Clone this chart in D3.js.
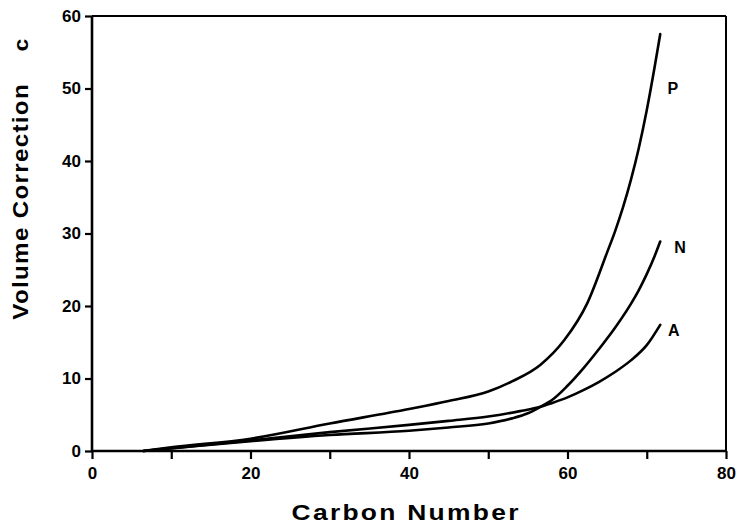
<!DOCTYPE html>
<html><head><meta charset="utf-8">
<script src="https://cdn.jsdelivr.net/npm/d3@7"></script>
<style>body{margin:0;background:#fff}svg{display:block}</style>
</head><body><svg id="c" width="742" height="528"></svg>
<script>
const xTicks=[0,20,40,60,80];
const xMinorTicks=[10,30,50,70];
const yTicks=[0,10,20,30,40,50,60];
const seriesNames=["P","N","A"];
const pCurve=[[6.5,0],[10,0.5],[20,1.7],[30,3.8],[40,5.8],[45,6.9],[50,8.2],[53,9.6],[56.6,11.9],[59.6,15.3],[62.5,20.4],[65,27.4],[66,30.3],[67,33.6],[68,37.4],[69,41.8],[70,47],[71,53],[71.7,57.5]];
const nCurve=[[6.5,0],[10,0.35],[20,1.35],[30,2.2],[40,2.8],[45,3.25],[50,3.8],[53,4.5],[55,5.2],[57,6.35],[58,7.0],[60,9.0],[62,11.4],[64,14.1],[66,17.0],[68,20.3],[69,22.2],[70,24.4],[71,26.9],[71.7,28.9]];
const aCurve=[[6.5,0],[10,0.4],[20,1.45],[30,2.6],[40,3.6],[45,4.15],[50,4.75],[54,5.5],[56.6,6.1],[58,6.6],[60,7.4],[62,8.4],[64,9.55],[66,10.9],[68,12.5],[70,14.6],[71.7,17.4]];
const labelPos=[[73.3,50],[74.2,28.1],[73.4,16.7]];

const svg=d3.select("#c");
const x=d3.scaleLinear().domain([0,80]).range([92,726]);
const y=d3.scaleLinear().domain([0,60]).range([451,16]);
const font="'Liberation Sans', Arial, sans-serif";

// frame
svg.append("line").attr("x1",x(0)).attr("x2",x(80)).attr("y1",y(60)).attr("y2",y(60)).attr("stroke","#000").attr("stroke-width",2);
svg.append("line").attr("x1",x(80)).attr("x2",x(80)).attr("y1",y(60)).attr("y2",y(0)).attr("stroke","#000").attr("stroke-width",2);

const xAxis=svg.append("g").attr("transform",`translate(0,${y(0)})`)
  .call(d3.axisBottom(x).tickValues(xTicks.concat(xMinorTicks)).tickSize(8).tickFormat(d=>xTicks.includes(d)?d:""));
const yAxis=svg.append("g").attr("transform",`translate(${x(0)},0)`)
  .call(d3.axisLeft(y).tickValues(yTicks).tickSize(7));
[xAxis,yAxis].forEach(g=>{
  g.select(".domain").attr("stroke","#000").attr("stroke-width",2.6);
  g.selectAll(".tick line").attr("stroke","#000").attr("stroke-width",2.2);
  g.selectAll("text").attr("fill","#000").style("font-family",font).style("font-size","17px").style("font-weight","bold");
});
xAxis.selectAll("text").attr("dy","1.05em").attr("y",10);
yAxis.selectAll("text").attr("x",-11);
xAxis.select(".domain").attr("d",`M${x(0)},0H${x(80)}`);
yAxis.select(".domain").attr("d",`M0,${y(0)}V${y(60)}`);

const line=d3.line().x(d=>x(d[0])).y(d=>y(d[1])).curve(d3.curveMonotoneX);
[pCurve,nCurve,aCurve].forEach(c=>{
  svg.append("path").attr("d",line(c)).attr("fill","none").attr("stroke","#000").attr("stroke-width",2.6).attr("stroke-linecap","round");
});
seriesNames.forEach((n,i)=>{
  svg.append("text").attr("x",x(labelPos[i][0])).attr("y",y(labelPos[i][1])).attr("dy","0.35em")
    .attr("text-anchor","middle").style("font-family",font).style("font-size","16px").style("font-weight","bold").text(n);
});

svg.append("text").attr("transform","translate(405,520) scale(1.2,1)").attr("text-anchor","middle")
  .attr("textLength",189).attr("lengthAdjust","spacing")
  .style("font-family",font).style("font-size","22px").style("font-weight","bold").text("Carbon Number");
svg.append("text").attr("transform","translate(28,202) rotate(-90) scale(1.1,1)").attr("text-anchor","middle")
  .attr("textLength",214).attr("lengthAdjust","spacing")
  .style("font-family",font).style("font-size","22px").style("font-weight","bold").text("Volume Correction");
svg.append("text").attr("transform","translate(28,45) rotate(-90) scale(1.15,1)").attr("text-anchor","middle")
  .style("font-family",font).style("font-size","20px").style("font-weight","bold").text("c");
</script></body></html>
